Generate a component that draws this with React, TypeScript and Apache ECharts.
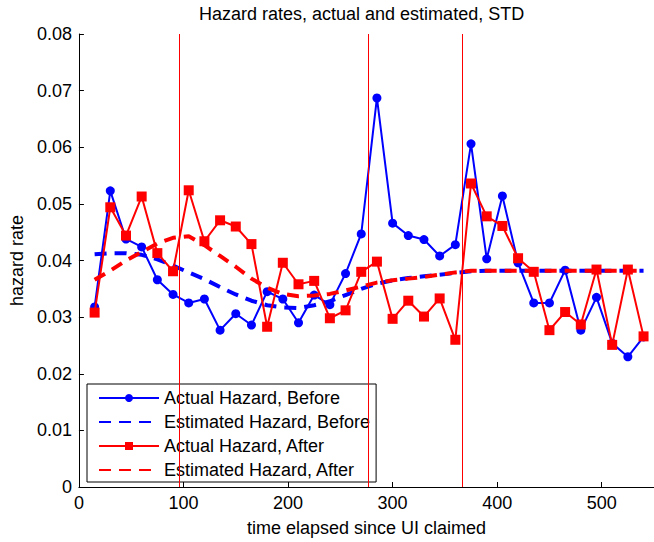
import React, { useEffect, useRef } from "react";
import * as echarts from "echarts";

// Days elapsed since the UI claim (x positions of every series)
const days = [
  15, 30, 45, 60, 75, 90, 105, 120, 135, 150, 165, 180, 195, 210, 225, 240, 255, 270,
  285, 300, 315, 330, 345, 360, 375, 390, 405, 420, 435, 450, 465, 480, 495, 510, 525, 540,
];

const actualBefore = [
  0.0318, 0.0523, 0.0438, 0.0424, 0.0366, 0.034, 0.0325, 0.0332, 0.0277, 0.0306, 0.0286, 0.0345,
  0.0332, 0.029, 0.0339, 0.0322, 0.0377, 0.0447, 0.0687, 0.0466, 0.0444, 0.0437, 0.0408, 0.0428,
  0.0606, 0.0403, 0.0514, 0.0396, 0.0325, 0.0325, 0.0383, 0.0277, 0.0335, 0.0254, 0.023, 0.0265,
];

const estimatedBefore = [
  0.0411, 0.0413, 0.0413, 0.041, 0.0402, 0.0391, 0.0379, 0.0367, 0.0353, 0.034, 0.0329, 0.0321,
  0.0317, 0.0316, 0.0321, 0.0328, 0.0339, 0.035, 0.0359, 0.0365, 0.0369, 0.0372, 0.0375, 0.0378,
  0.0381, 0.0382, 0.0382, 0.0382, 0.0382, 0.0382, 0.0382, 0.0382, 0.0382, 0.0382, 0.0382, 0.0382,
];

const actualAfter = [
  0.0308, 0.0494, 0.0444, 0.0513, 0.0413, 0.0381, 0.0524, 0.0434, 0.0471, 0.046, 0.0429, 0.0283,
  0.0396, 0.0358, 0.0364, 0.0298, 0.0312, 0.038, 0.0398, 0.0297, 0.0329, 0.0301, 0.0333, 0.026,
  0.0536, 0.0478, 0.0461, 0.0404, 0.038, 0.0277, 0.0309, 0.0287, 0.0384, 0.0251, 0.0384, 0.0266,
];

const estimatedAfter = [
  0.0366, 0.0382, 0.04, 0.0415, 0.043, 0.044, 0.0443, 0.0427, 0.0408, 0.0389, 0.0368, 0.0352,
  0.0341, 0.0337, 0.0338, 0.0341, 0.0347, 0.0354, 0.0361, 0.0365, 0.0368, 0.0371, 0.0375, 0.0379,
  0.0382, 0.0382, 0.0382, 0.0382, 0.0382, 0.0382, 0.0382, 0.0382, 0.0382, 0.0382, 0.0382, 0.0382,
];

// Vertical reference lines (days)
const markerDays = [96, 277, 367];

const FONT = "'Liberation Sans', Arial, Helvetica, sans-serif";
const BLUE = "#0000ff";
const RED = "#ff0000";

const pairs = (ys: number[]) => days.map((d, i) => [d, ys[i]]);

export default function App() {
  const ref = useRef<HTMLDivElement>(null);

  useEffect(() => {
    if (!ref.current) return;
    const chart = echarts.init(ref.current, undefined, { renderer: "svg" });
    chart.setOption({
      animation: false,
      backgroundColor: "#ffffff",
      textStyle: { fontFamily: FONT },
      title: {
        text: "Hazard rates, actual and estimated, STD",
        left: 199,
        top: 5,
        padding: 0,
        textStyle: { fontFamily: FONT, fontSize: 18, fontWeight: "normal", color: "#000" },
      },
      grid: { left: 78, top: 34, width: 579, height: 458 },
      xAxis: {
        type: "value",
        min: 0,
        max: 550,
        interval: 100,
        name: "time elapsed since UI claimed",
        nameLocation: "middle",
        nameGap: 32,
        nameTextStyle: { fontFamily: FONT, fontSize: 18, color: "#000" },
        axisLine: { show: true, lineStyle: { color: "#000", width: 1 } },
        axisTick: { show: true, inside: true, length: 5, lineStyle: { color: "#000" } },
        axisLabel: { fontFamily: FONT, fontSize: 18, color: "#000", margin: 7, showMaxLabel: false },
        splitLine: { show: false },
      },
      yAxis: {
        type: "value",
        min: 0,
        max: 0.08,
        interval: 0.01,
        name: "hazard rate",
        nameLocation: "middle",
        nameGap: 52,
        nameTextStyle: { fontFamily: FONT, fontSize: 18, color: "#000" },
        axisLine: { show: true, lineStyle: { color: "#000", width: 1 } },
        axisTick: { show: true, inside: true, length: 5, lineStyle: { color: "#000" } },
        axisLabel: {
          fontFamily: FONT,
          fontSize: 18,
          color: "#000",
          margin: 7,
          formatter: (v: number) => (v === 0 ? "0" : v.toFixed(2)),
        },
        splitLine: { show: false },
      },
      legend: {
        orient: "vertical",
        left: 87,
        top: 384,
        padding: [5, 6, 3, 11],
        itemWidth: 60,
        itemHeight: 10,
        itemGap: 6,
        backgroundColor: "#ffffff",
        borderColor: "#000",
        borderWidth: 1,
        borderRadius: 0,
        textStyle: { fontFamily: FONT, fontSize: 18, color: "#000", lineHeight: 18 },
        data: [
          { name: "Actual Hazard, Before" },
          { name: "Estimated Hazard, Before", itemStyle: { opacity: 0 } },
          { name: "Actual Hazard, After" },
          { name: "Estimated Hazard, After", itemStyle: { opacity: 0 } },
        ],
      },
      series: [
        {
          name: "Actual Hazard, Before",
          type: "line",
          data: pairs(actualBefore),
          symbol: "circle",
          symbolSize: 9,
          itemStyle: { color: BLUE },
          lineStyle: { color: BLUE, width: 2 },
          z: 2,
          markLine: {
            silent: true,
            symbol: ["none", "none"],
            label: { show: false },
            lineStyle: { color: RED, width: 1, type: "solid" },
            data: markerDays.map((d) => ({ xAxis: d })),
          },
        },
        {
          name: "Estimated Hazard, Before",
          type: "line",
          data: pairs(estimatedBefore),
          symbol: "none",
          itemStyle: { color: BLUE },
          lineStyle: { color: BLUE, width: 4, type: [12, 8] },
          z: 3,
        },
        {
          name: "Actual Hazard, After",
          type: "line",
          data: pairs(actualAfter),
          symbol: "rect",
          symbolSize: 10,
          itemStyle: { color: RED },
          lineStyle: { color: RED, width: 2 },
          z: 4,
        },
        {
          name: "Estimated Hazard, After",
          type: "line",
          data: pairs(estimatedAfter),
          symbol: "none",
          itemStyle: { color: RED },
          lineStyle: { color: RED, width: 4, type: [12, 8] },
          z: 5,
        },
      ],
    });
    return () => chart.dispose();
  }, []);

  return (
    <div
      ref={ref}
      style={{ position: "fixed", left: 0, top: 0, width: 654, height: 542 }}
    />
  );
}
